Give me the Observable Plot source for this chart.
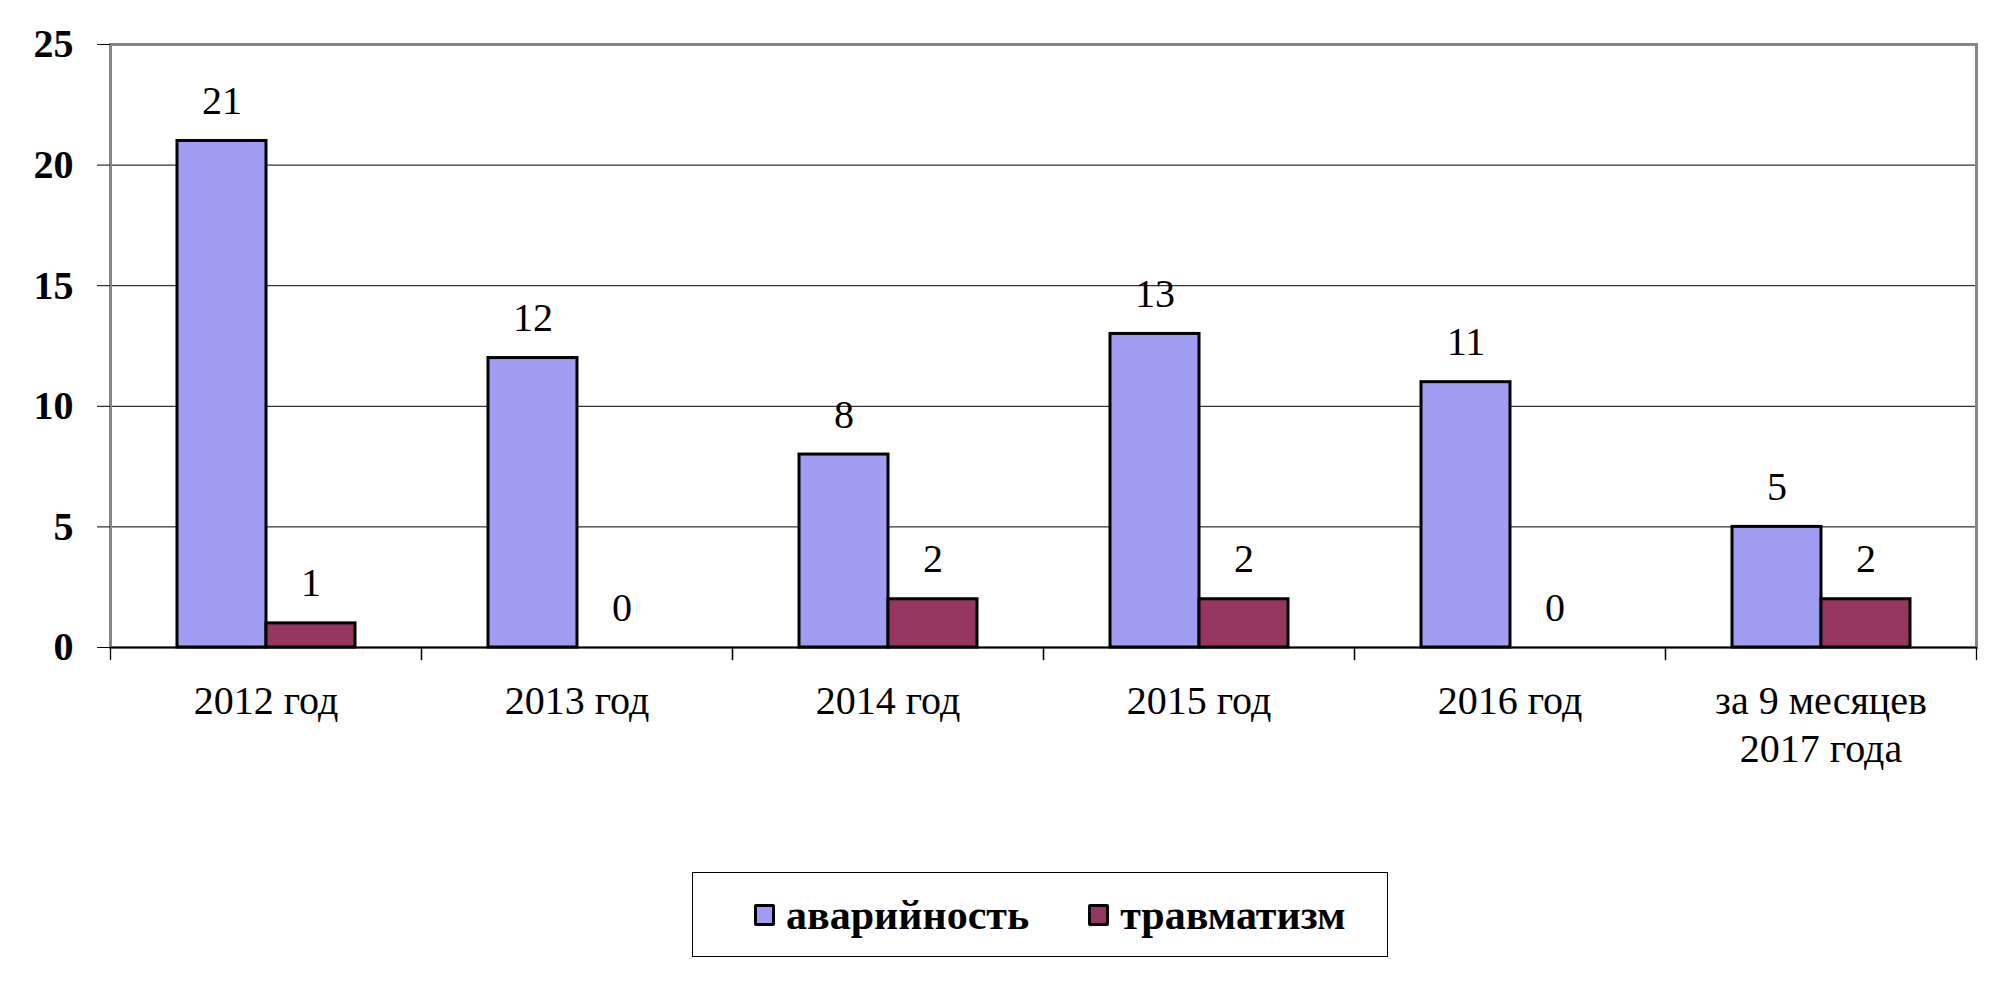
<!DOCTYPE html>
<html><head><meta charset="utf-8">
<script src="https://cdn.jsdelivr.net/npm/d3@7"></script>
<script src="https://cdn.jsdelivr.net/npm/@observablehq/plot@0.6"></script>
<style>
html,body{margin:0;padding:0;background:#fff;}
body{width:2006px;height:987px;overflow:hidden;position:relative;font-family:"Times New Roman","Liberation Serif","DejaVu Serif",serif;}
#chart{position:absolute;left:0;top:0;}
#chart svg, #chart svg text{font-family:"Times New Roman","Liberation Serif","DejaVu Serif",serif !important;}
#legend{position:absolute;left:692px;top:872px;width:696px;height:85px;border:1.5px solid #000;box-sizing:border-box;display:flex;align-items:center;justify-content:flex-start;padding-left:61px;}
.item{display:flex;align-items:center;font-weight:bold;font-size:42px;color:#000;font-family:"Times New Roman","Liberation Serif","DejaVu Serif",serif;}
.sw{width:21px;height:22px;border:3.5px solid #000;box-sizing:border-box;margin-right:11px;border-radius:2px;}
</style></head>
<body><div id="chart"></div><div id="legend"></div>
<script>
const categories = ["2012 год", "2013 год", "2014 год", "2015 год", "2016 год", "за 9 месяцев\n2017 года"];
const series = ["аварийность", "травматизм"];
const avariynost = [21, 12, 8, 13, 11, 5];
const travmatizm = [1, 0, 2, 2, 0, 2];
const colors = ["#a09cf2", "#953660"];
const yTicks = [0, 5, 10, 15, 20, 25];

const W = 2006, H = 860, mL = 108, mR = 29, mT = 44, mB = 213;
const plotH = H - mT - mB;
const serif = "Times New Roman, Liberation Serif, serif";

const data = [];
categories.forEach((c, i) => {
  data.push({cat: c, series: series[0], value: avariynost[i]});
  data.push({cat: c, series: series[1], value: travmatizm[i]});
});

const chart = Plot.plot({
  width: W, height: H,
  marginLeft: mL, marginRight: mR, marginTop: mT, marginBottom: mB,
  style: {fontFamily: serif, background: "white", overflow: "visible", color: "black"},
  fx: {domain: categories, padding: 0, axis: null},
  x: {domain: series, paddingInner: 0, paddingOuter: 0.7306, axis: null},
  y: {domain: [0, 25], axis: null},
  color: {domain: series, range: colors},
  marks: [
    Plot.gridY(yTicks.filter(v => v > 0 && v < 25), {stroke: "black", strokeOpacity: 1, strokeWidth: 1}),
    Plot.frame({facet: "super", stroke: "#868686", strokeWidth: 3}),
    Plot.frame({anchor: "left", insetTop: plotH, insetBottom: -12, stroke: "black", strokeWidth: 1.3}),
    Plot.frame({anchor: "right", insetTop: plotH, insetBottom: -12, stroke: "black", strokeWidth: 1.3}),
    Plot.ruleY([0], {stroke: "black", strokeWidth: 1.5}),
    Plot.barY(data, {fx: "cat", x: "series", y: "value", fill: "series", stroke: "black", strokeWidth: 3}),
    Plot.text(data, {fx: "cat", x: "series", y: "value", text: d => String(d.value), lineAnchor: "bottom", dy: -27, fontSize: 40, fontFamily: serif, fill: "black"}),
    Plot.axisY({ticks: yTicks, tickSize: 13, tickPadding: 24, fontSize: 40, fontWeight: "bold", fontFamily: serif, anchor: "left", label: null, stroke: "black"}),
    Plot.axisFx({anchor: "bottom", tickSize: 0, tickPadding: 32, fontSize: 40, fontFamily: serif, lineHeight: 1.2, label: null})
  ]
});
document.getElementById("chart").appendChild(chart);

const legend = document.getElementById("legend");
series.forEach((s, i) => {
  const item = document.createElement("div");
  item.className = "item";
  if (i > 0) item.style.marginLeft = "59px";
  const sw = document.createElement("div");
  sw.className = "sw";
  sw.style.background = colors[i];
  item.appendChild(sw);
  const t = document.createElement("span");
  t.textContent = s;
  item.appendChild(t);
  legend.appendChild(item);
});
</script>
</body></html>
